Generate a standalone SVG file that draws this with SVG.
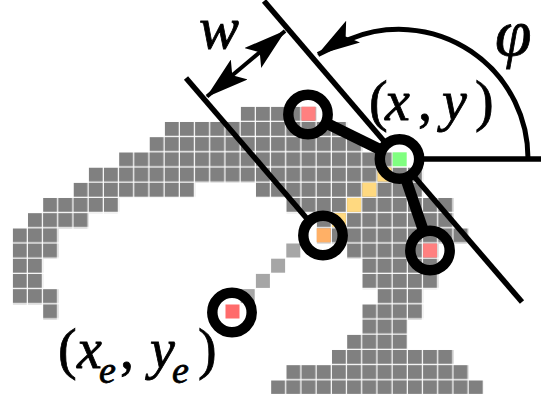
<svg xmlns="http://www.w3.org/2000/svg" width="541" height="394" viewBox="0 0 541 394">
<style>
.c{fill:#808080}
.l{fill:#a6a6a6}
.y{fill:#ffd980}
.ln{stroke:#000;fill:none;stroke-width:5.5}
.link{stroke:#000;fill:none;stroke-width:11}
.ring{fill:none;stroke:#000;stroke-width:10.5}
.t{font-family:"Liberation Serif",serif;fill:#000;stroke:#000;stroke-width:.8}
.i{font-style:italic}
</style>
<defs>
<pattern id="cell" x="12.7" y="106.7" width="15.2" height="15.2" patternUnits="userSpaceOnUse"><rect width="14" height="14" class="c"/></pattern>
<marker id="ah" viewBox="0 0 43 26" refX="42" refY="13" markerWidth="43" markerHeight="26" markerUnits="userSpaceOnUse" orient="auto-start-reverse"><path d="M0 0L43 13L0 26L9 13Z"/></marker>
<marker id="ah2" viewBox="0 0 43 26" refX="42" refY="13" markerWidth="43" markerHeight="26" markerUnits="userSpaceOnUse" orient="147"><path d="M0 0L43 13L0 26L9 13Z"/></marker>
</defs>
<rect width="541" height="394" fill="#fff"/>
<g id="pixels">
<rect x="240.7" y="106.7" width="76" height="15.2" fill="url(#cell)"/>
<rect x="164.7" y="121.9" width="182.4" height="15.2" fill="url(#cell)"/>
<rect x="149.5" y="137.1" width="212.8" height="15.2" fill="url(#cell)"/>
<rect x="119.1" y="152.3" width="273.6" height="15.2" fill="url(#cell)"/>
<rect x="88.7" y="167.5" width="334.4" height="15.2" fill="url(#cell)"/>
<rect x="73.5" y="182.7" width="121.6" height="15.2" fill="url(#cell)"/>
<rect x="255.9" y="182.7" width="167.2" height="15.2" fill="url(#cell)"/>
<rect x="43.1" y="197.9" width="76" height="15.2" fill="url(#cell)"/>
<rect x="286.3" y="197.9" width="167.2" height="15.2" fill="url(#cell)"/>
<rect x="27.9" y="213.1" width="60.8" height="15.2" fill="url(#cell)"/>
<rect x="316.7" y="213.1" width="136.8" height="15.2" fill="url(#cell)"/>
<rect x="12.7" y="228.3" width="45.6" height="15.2" fill="url(#cell)"/>
<rect x="316.7" y="228.3" width="152" height="15.2" fill="url(#cell)"/>
<rect x="12.7" y="243.5" width="45.6" height="15.2" fill="url(#cell)"/>
<rect x="347.1" y="243.5" width="91.2" height="15.2" fill="url(#cell)"/>
<rect x="12.7" y="258.7" width="30.4" height="15.2" fill="url(#cell)"/>
<rect x="362.3" y="258.7" width="76" height="15.2" fill="url(#cell)"/>
<rect x="12.7" y="273.9" width="30.4" height="15.2" fill="url(#cell)"/>
<rect x="362.3" y="273.9" width="76" height="15.2" fill="url(#cell)"/>
<rect x="12.7" y="289.1" width="45.6" height="15.2" fill="url(#cell)"/>
<rect x="377.5" y="289.1" width="45.6" height="15.2" fill="url(#cell)"/>
<rect x="43.1" y="304.3" width="15.2" height="15.2" fill="url(#cell)"/>
<rect x="362.3" y="304.3" width="60.8" height="15.2" fill="url(#cell)"/>
<rect x="362.3" y="319.5" width="45.6" height="15.2" fill="url(#cell)"/>
<rect x="347.1" y="334.7" width="60.8" height="15.2" fill="url(#cell)"/>
<rect x="331.9" y="349.9" width="121.6" height="15.2" fill="url(#cell)"/>
<rect x="286.3" y="365.1" width="182.4" height="15.2" fill="url(#cell)"/>
<rect x="271.1" y="380.3" width="212.8" height="13.7" fill="url(#cell)"/>
<rect class="l" x="286.3" y="243.5" width="14" height="14"/>
<rect class="l" x="271.1" y="258.7" width="14" height="14"/>
<rect class="l" x="255.9" y="273.9" width="14" height="14"/>
<rect class="l" x="240.7" y="289.1" width="14" height="14"/>
<rect class="y" x="377.5" y="167.5" width="14" height="14"/>
<rect class="y" x="362.3" y="182.7" width="14" height="14"/>
<rect class="y" x="347.1" y="197.9" width="14" height="14"/>
<rect class="y" x="331.9" y="213.1" width="14" height="14"/>
</g>
<g id="connectors">
<path class="ln" d="M264 1L386 143.5"/>
<path class="ln" d="M412 174L522 302"/>
<path class="ln" d="M186 78L309 221"/>
<path class="ln" d="M420 159H541"/>
<path d="M528 159A129 129 0 0 0 350 39L318 54.5" fill="none" stroke="#000" stroke-width="5" marker-end="url(#ah2)"/>
<path d="M207 96.500L285 31" fill="none" stroke="#000" stroke-width="4" marker-start="url(#ah)" marker-end="url(#ah)"/>
<path class="link" d="M326 123L381 150"/>
<path class="link" d="M405.500 178L423.500 231"/>
</g>
<g id="node-a"><rect x="301.500" y="106.700" width="14" height="14" fill="#ff8080"/><circle class="ring" cx="308" cy="114.500" r="19.700"/></g>
<g id="node-b"><rect x="392.700" y="152.300" width="14" height="14" fill="#80ff80"/><circle class="ring" cx="399.500" cy="159" r="19.700"/></g>
<g id="node-c"><rect x="316.700" y="228.300" width="14" height="14" fill="#ffb066"/><circle class="ring" cx="323" cy="235.500" r="19.700"/></g>
<g id="node-d"><rect x="423.100" y="243.500" width="14" height="14" fill="#ff8080"/><circle class="ring" cx="430" cy="250.500" r="19.700"/></g>
<g id="node-e"><rect x="225.500" y="304.500" width="14" height="14" fill="#ff6b6b"/><circle class="ring" cx="232" cy="312.500" r="19.700"/></g>
<g id="labels">
<text class="t i" x="199" y="48" font-size="60">w</text>
<text class="t i" x="495" y="55" font-size="66">φ</text>
<text class="t" y="120" font-size="56"><tspan x="369">(</tspan><tspan class="i" x="385">x</tspan><tspan x="418">,</tspan><tspan class="i" x="442">y</tspan><tspan x="475">)</tspan></text>
<text class="t" y="368" font-size="56"><tspan x="58">(</tspan><tspan class="i" x="77">x</tspan><tspan class="i" x="99" y="383" font-size="38">e</tspan><tspan x="120" y="368">,</tspan><tspan class="i" x="150">y</tspan><tspan class="i" x="172" y="383" font-size="38">e</tspan><tspan x="198" y="368">)</tspan></text>
</g>
</svg>
